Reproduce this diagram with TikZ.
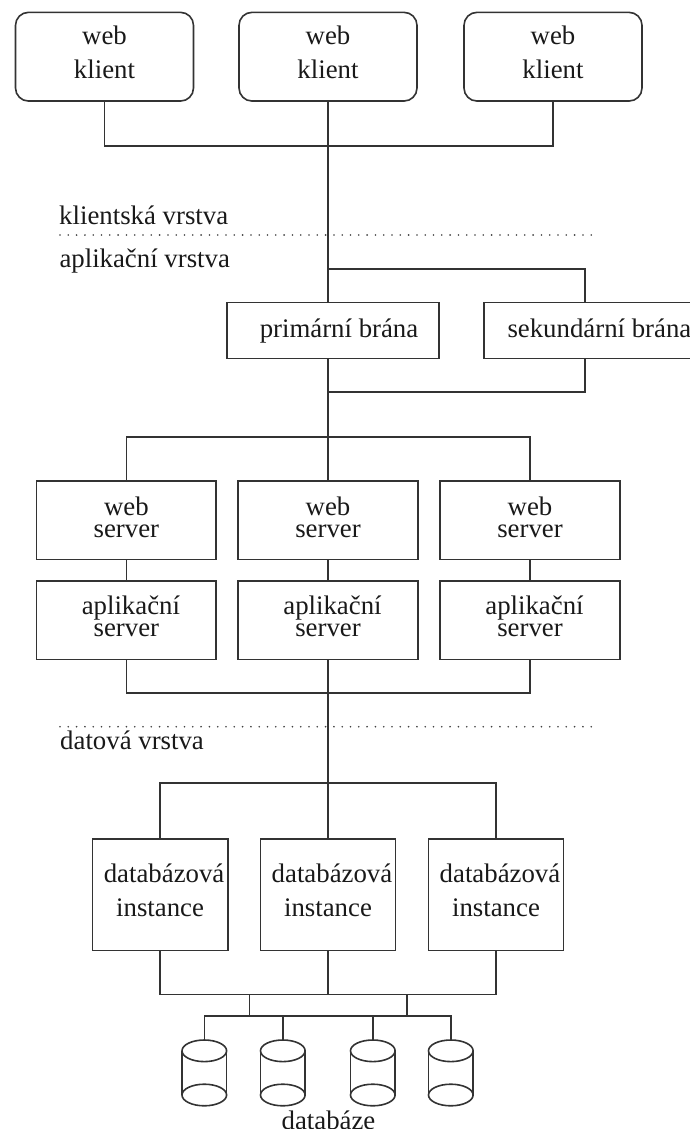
\documentclass[tikz,border=0pt]{standalone}
\usepackage{fontspec}
\setmainfont{Liberation Serif}
\begin{document}
\begin{tikzpicture}[x=1pt,y=-1pt,
  ln/.style={line width=1.6pt, draw=black!80},
  bx/.style={draw=black!80, line width=1.6pt, rectangle, inner sep=0pt},
  rbx/.style={bx, rounded corners=13pt},
  txt/.style={anchor=base, align=center, inner sep=0pt, text=black!90, font=\fontsize{26.8}{22}\selectfont},
  txtw/.style={txt, font=\fontsize{26.8}{34}\selectfont},
  lbl/.style={anchor=base west, inner sep=0pt, text=black!90, font=\fontsize{26.8}{32}\selectfont},
  dotl/.style={line width=1.8pt, draw=black!75, line cap=round, dash pattern=on 0pt off 8.3pt}]
\useasboundingbox (0,0) rectangle (690,1129);

% layer separators
\coordinate (d1a) at (60,235);   \coordinate (d1b) at (595,235);
\coordinate (d2a) at (60,726.7); \coordinate (d2b) at (595,726.7);
\draw[dotl] (d1a) -- (d1b);
\draw[dotl] (d2a) -- (d2b);
\node[lbl] (lk) at (59,224) {klientská vrstva};
\node[lbl] (la) at (59.3,267.5) {aplikační vrstva};
\node[lbl] (ld) at (60,749.3) {datová vrstva};

% web clients (text anchored at the last line's baseline)
\foreach \i/\x in {1/104.5,2/328,3/553}{
  \node[rbx, minimum width=178pt, minimum height=88.7pt] (wc\i) at (\x,56.7) {};
  \node[txtw] (wct\i) at (\x,79) {web\\klient};
}

% gateways
\node[bx, minimum width=212pt, minimum height=56pt] (pb) at (333,330.3) {};
\node[txt] (pbt) at (339,337.3) {primární brána};
\node[bx, minimum width=227pt, minimum height=56pt] (sb) at (597.5,330.3) {};
\node[lbl] (sbt) at (507.3,337.3) {sekundární brána};

% web + application servers
\foreach \i/\x in {1/126.4,2/328,3/530}{
  \node[bx, minimum width=179.5pt, minimum height=78.3pt] (ws\i) at (\x,520.2) {};
  \node[txt] (wst\i) at (\x,537) {web\\server};
  \node[bx, minimum width=179.5pt, minimum height=78.3pt] (as\i) at (\x,620.2) {};
  \node[txt] (ast\i) at (\x,636.7) {\hspace*{9pt}aplikační\\server};
}

% database instances
\foreach \i/\x in {1/160.1,2/328,3/496}{
  \node[bx, minimum width=135.3pt, minimum height=111.6pt] (db\i) at (\x,894.5) {};
  \node[txtw] (dbt\i) at (\x,916.7) {\hspace*{8pt}databázová\\instance};
}

% junctions
\coordinate (j1) at (328,145.7);
\coordinate (br) at (328,269);
\coordinate (sbtop) at (585,302.3);
\coordinate (jb) at (328,391.7);
\coordinate (jd) at (328,436.7);
\coordinate (ja) at (328,692.7);
\coordinate (jdd) at (328,782.7);
\coordinate (jdb) at (328,994.5);
\coordinate (s1) at (249.5,994.5);
\coordinate (s2) at (406.7,994.5);
\coordinate (jc1) at (249.5,1016);
\coordinate (jc2) at (406.7,1016);

% client tier connectors
\draw[ln] (wc1.south) |- (j1) -| (wc3.south);
\draw[ln] (wc2.south) -- (wc2.south |- pb.north);
\draw[ln] (br) -| (sbtop);
\draw[ln] (sbtop |- sb.south) |- (jb);
\draw[ln] (wc2.south |- pb.south) -- (jd);

% server connectors
\draw[ln] (ws1.north) |- (jd) -| (ws3.north);
\draw[ln] (jd) -- (ws2.north);
\foreach \i in {1,2,3}{ \draw[ln] (ws\i.south) -- (as\i.north); }
\draw[ln] (as1.south) |- (ja) -| (as3.south);
\draw[ln] (as2.south) -- (jdd);

% data tier connectors
\draw[ln] (db1.north) |- (jdd) -| (db3.north);
\draw[ln] (jdd) -- (db2.north);
\draw[ln] (db1.south) |- (jdb) -| (db3.south);
\draw[ln] (db2.south) -- (jdb);

% databases (cylinders)
\foreach \i/\x in {1/204.3,2/282.8,3/372.8,4/450.8}{
  \coordinate (cm\i) at (\x,1050.8);
  \coordinate (ct\i) at (\x,1040);
  \coordinate (cb\i) at (\x,1095);
  \draw[ln] (cm\i) ellipse [x radius=22.3pt, y radius=10.8pt];
  \draw[ln] (cb\i) ellipse [x radius=22.3pt, y radius=10.8pt];
  \draw[ln] ([xshift=-22.3pt]cm\i) -- ([xshift=-22.3pt]cb\i);
  \draw[ln] ([xshift=22.3pt]cm\i) -- ([xshift=22.3pt]cb\i);
}
\draw[ln] (s1) -- (jc1);
\draw[ln] (s2) -- (jc2);
\draw[ln] (ct1) |- (jc1) -- (jc2) -| (ct4);
\draw[ln] (ct2) -- (ct2 |- jc1);
\draw[ln] (ct3) -- (ct3 |- jc1);
\node[anchor=base, inner sep=0pt, text=black!90, font=\fontsize{26.8}{32}\selectfont] (dbs) at (328.5,1129.5) {databáze};
\end{tikzpicture}
\end{document}
